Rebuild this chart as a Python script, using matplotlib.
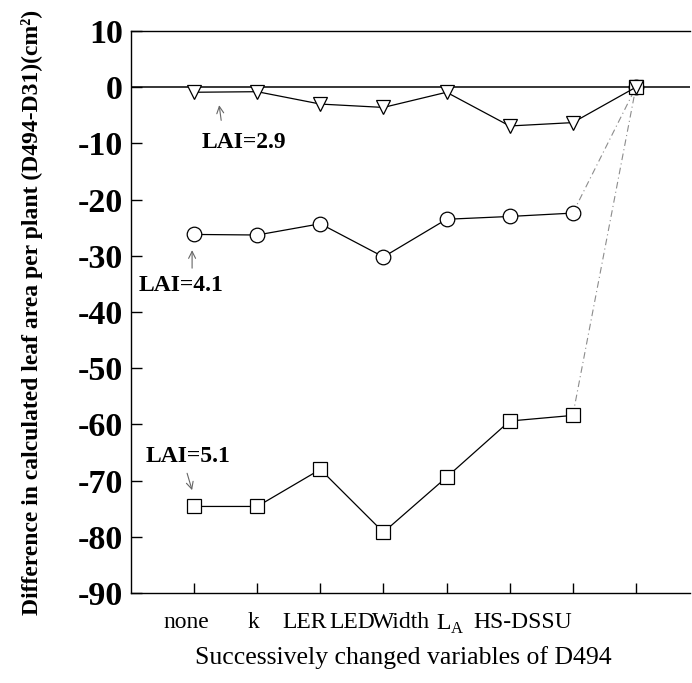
import matplotlib
matplotlib.use("Agg")
import matplotlib.pyplot as plt

# ---- data ----
categories = ["none", "k", "LER", "LED", "Width", "L$_\\mathregular{A}$", "HS-DSSU"]
steps = [1, 2, 3, 4, 5, 6, 7, 8]
lai29 = [-0.9, -0.8, -3.0, -3.6, -0.9, -6.9, -6.3, 0.0]
lai41 = [-26.2, -26.3, -24.3, -30.2, -23.5, -23.0, -22.4, 0.0]
lai51 = [-74.6, -74.6, -68.0, -79.2, -69.4, -59.4, -58.4, 0.0]
yticks = [10, 0, -10, -20, -30, -40, -50, -60, -70, -80, -90]
ylabel = "Difference in calculated leaf area per plant (D494-D31)(cm²)"
xlabel = "Successively changed variables of D494"

# ---- style ----
plt.rcParams['font.family'] = ['Liberation Serif', 'DejaVu Serif']
plt.rcParams['mathtext.fontset'] = 'custom'
plt.rcParams['mathtext.rm'] = 'Liberation Serif'

label_pos = [0.873, 1.944, 2.754, 3.508, 4.286, 5.063, 6.206]

fig = plt.figure(figsize=(6.92, 6.83), dpi=100)
W, H = 692, 683
ax = fig.add_axes([131 / W, 1 - 593 / H, (690 - 131) / W, (593 - 31) / H])
ax.set_xlim(0, 558 / 63)
ax.set_ylim(-90, 10)

ax.axhline(0, color='black', lw=1.1, zorder=1)

mk = dict(mfc='white', mec='black', mew=0.9, ms=10.5, color='black', lw=0.9, zorder=3)
# series with solid segments up to HS-DSSU, faint dash-dot segment to final point
for vals, m in [(lai41, 'o'), (lai51, 's')]:
    ax.plot(steps[-2:], vals[-2:], color='0.55', lw=0.8, ls=(0, (6, 3, 1, 3)), zorder=2)
    ax.plot(steps[:-1], vals[:-1], marker=m, **mk)
    ax.plot(steps[-1:], vals[-1:], marker=m, ls='none',
            **{k: v for k, v in mk.items() if k != 'lw'})
ax.plot(steps, lai29, marker='v', **mk)

# annotations
tkw = dict(ha='center', va='center', fontsize=17, fontweight='bold')
akw = dict(arrowstyle='->,head_length=0.5,head_width=0.25', color='0.4', lw=0.8,
           shrinkA=0, shrinkB=0)
ax.text(1.79, -9.8, "LAI=2.9", **tkw)
ax.annotate('', xy=(1.397, -3.2), xytext=(1.429, -5.9), arrowprops=akw)
ax.text(0.794, -35.2, "LAI=4.1", **tkw)
ax.annotate('', xy=(0.968, -29.0), xytext=(0.968, -32.2), arrowprops=akw)
ax.text(0.905, -65.8, "LAI=5.1", **tkw)
ax.annotate('', xy=(0.968, -71.7), xytext=(0.889, -68.7), arrowprops=akw)

# spines
ax.spines['right'].set_visible(False)
for s in ['top', 'left', 'bottom']:
    ax.spines[s].set_linewidth(1.0)

# ticks
ax.set_yticks(yticks)
ax.set_yticklabels([str(t) for t in yticks], fontsize=24.5, fontweight='bold')
ax.tick_params(axis='y', direction='in', length=8, width=1, pad=6)
ax.set_xticks(steps)
ax.set_xticklabels([])
ax.tick_params(axis='x', which='major', direction='in', length=7, width=1)
ax.set_xticks(label_pos, minor=True)
ax.set_xticklabels(categories, minor=True, fontsize=17)
ax.tick_params(axis='x', which='minor', length=0, pad=14)

ax.set_xlabel(xlabel, fontsize=18.5)
ax.xaxis.set_label_coords(0.487, -0.095)
ax.set_ylabel(ylabel, fontsize=17, fontweight='bold')
ax.yaxis.set_label_coords(-0.158, 0.50)

fig.savefig("out.png", dpi=100)
